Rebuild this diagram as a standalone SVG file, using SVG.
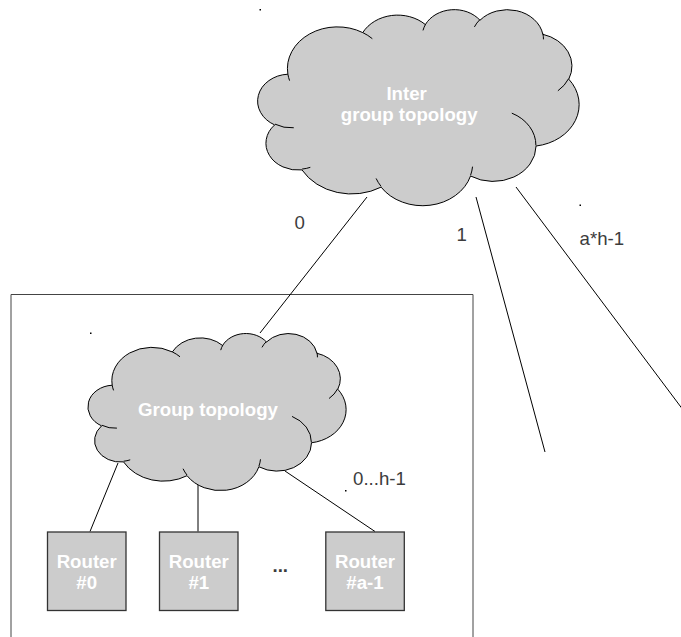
<svg xmlns="http://www.w3.org/2000/svg" xmlns:xlink="http://www.w3.org/1999/xlink" width="681" height="637" viewBox="0 0 681 637">
  <style>
    .cloud-body { fill: #cccccc; stroke: #000000; stroke-width: 1; vector-effect: non-scaling-stroke; }
    .cloud-fold { fill: none; stroke: #000000; stroke-width: 1; vector-effect: non-scaling-stroke; }
    .router { fill: #cccccc; stroke: #333333; stroke-width: 1.3; }
    .frame { fill: none; stroke: #444444; stroke-width: 1; }
    .link { fill: none; stroke: #000000; stroke-width: 1; }
    .node-text { font-family: "Liberation Sans", Arial, sans-serif; font-size: 18.67px; font-weight: bold; fill: #ffffff; text-anchor: middle; }
    .label { font-family: "Liberation Sans", Arial, sans-serif; font-size: 18.67px; fill: #3c3c3c; }
    .dot { fill: #000000; }
  </style>
  <defs>
    <!-- cloud outline in a 43200 x 43200 unit box -->
    <g id="cloud-shape">
      <path class="cloud-body" d="M 3900 14370 A 6753 9190 0 0 1 14006 5203 A 5333 7267 0 0 1 22457 3432 A 4365 5945 0 0 1 29835 2481 A 4857 6595 0 0 1 38320 5577 A 5333 7273 0 0 1 41820 15460 A 6775 9220 0 0 1 37404 30200 A 5785 7867 0 0 1 28556 36810 A 6752 9215 0 0 1 16481 39263 A 7720 10543 0 0 1 5804 35468 A 4360 5918 0 0 1 2112 25547 A 4345 5945 0 0 1 3900 14370 Z"/>
      <path class="cloud-fold" d="M 4693 26177 A 4345 5945 0 0 1 2160 25380 M 6928 34899 A 4360 5918 0 0 1 5819 35281 M 16478 39090 A 6752 9215 0 0 1 15809 37347 M 28827 34751 A 6752 9215 0 0 1 28560 36660 M 34129 22954 A 5785 7867 0 0 1 37381 30090 M 41798 15354 A 5333 7273 0 0 1 40350 18031 M 38324 5426 A 4857 6595 0 0 1 38400 6690 M 29078 3952 A 4857 6595 0 0 1 29820 2339 M 22141 4720 A 4365 5945 0 0 1 22500 3330 M 14000 5192 A 6753 9190 0 0 1 15298 6540 M 4127 15789 A 6753 9190 0 0 1 3901 14372"/>
    </g>
  </defs>

  <!-- group boundary (open at the bottom) -->
  <g id="group-frame">
    <path class="frame" d="M 11 637 V 294.5 H 473 V 637"/>
  </g>

  <!-- connectors -->
  <g id="connectors">
    <line class="link" x1="367" y1="197" x2="260" y2="333"/>
    <line class="link" x1="476" y1="197" x2="545" y2="452"/>
    <line class="link" x1="516" y1="187" x2="682" y2="408.5"/>
    <line class="link" x1="118" y1="463" x2="90" y2="531.5"/>
    <line class="link" x1="198" y1="482" x2="198" y2="531.5"/>
    <line class="link" x1="285" y1="471" x2="375" y2="531.5"/>
  </g>

  <g id="inter-group-topology">
    <use xlink:href="#cloud-shape" transform="translate(259 9) scale(0.0074074 0.0045370)"/>
    <text class="node-text" x="406.6" y="99.5">Inter</text>
    <text class="node-text" x="409.2" y="120.5">group topology</text>
  </g>

  <g id="group-topology">
    <use xlink:href="#cloud-shape" transform="translate(89 333) scale(0.0059491 0.0036343)"/>
    <text class="node-text" x="208" y="416">Group topology</text>
  </g>

  <g id="router-0">
    <rect class="router" x="47.5" y="532" width="78.5" height="78.5"/>
    <text class="node-text" x="86.7" y="567.7">Router</text>
    <text class="node-text" x="86.7" y="589">#0</text>
  </g>

  <g id="router-1">
    <rect class="router" x="159.5" y="532" width="78.5" height="78.5"/>
    <text class="node-text" x="198.8" y="567.7">Router</text>
    <text class="node-text" x="198.8" y="589">#1</text>
  </g>

  <g id="router-a-1">
    <rect class="router" x="325.8" y="532" width="78.5" height="78.5"/>
    <text class="node-text" x="365" y="567.7">Router</text>
    <text class="node-text" x="365" y="589">#a-1</text>
  </g>

  <!-- port labels -->
  <g id="labels">
    <text class="label" x="294.5" y="229">0</text>
    <text class="label" x="456.5" y="240.7">1</text>
    <text class="label" x="579.5" y="245">a*h-1</text>
    <text class="label" x="353" y="485">0...h-1</text>
    <text class="label" x="272.5" y="572" font-weight="bold">...</text>
  </g>

  <!-- stray anchor dots -->
  <g id="dots">
    <rect class="dot" x="259.5" y="9" width="1.5" height="1.5"/>
    <rect class="dot" x="90" y="332.5" width="1.5" height="1.5"/>
    <rect class="dot" x="579.5" y="204.5" width="1.5" height="1.5"/>
    <rect class="dot" x="345" y="490" width="1.5" height="1.5"/>
  </g>
</svg>
